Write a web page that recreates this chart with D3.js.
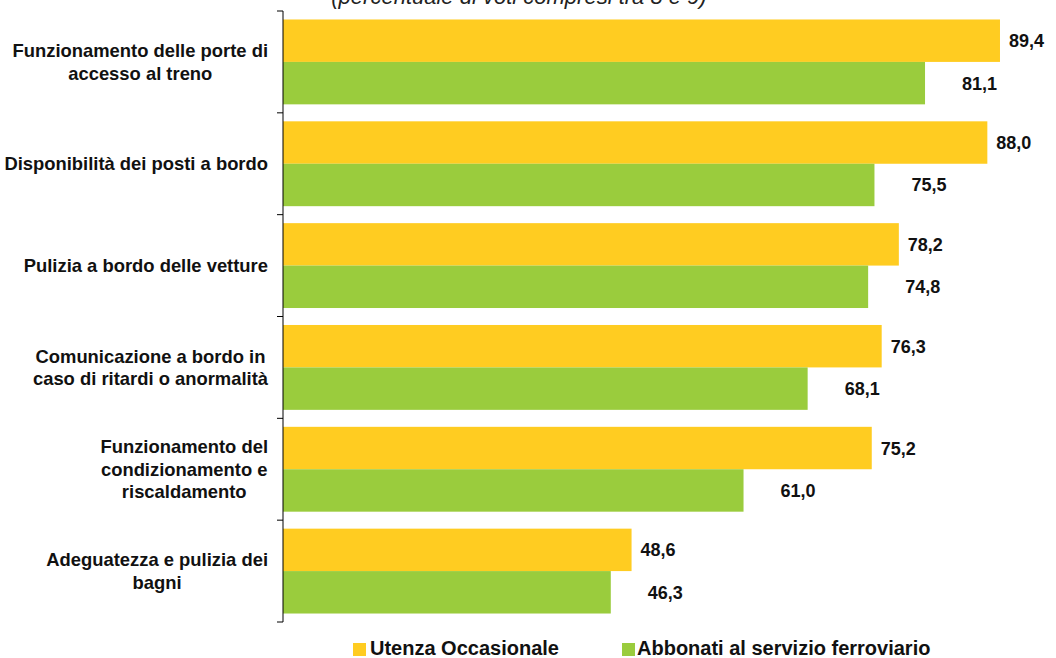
<!DOCTYPE html>
<html>
<head>
<meta charset="utf-8">
<script src="https://cdn.jsdelivr.net/npm/d3@7"></script>
<style>
  html, body { margin: 0; padding: 0; background: #fff; }
  svg { display: block; font-family: "Liberation Sans", Arial, sans-serif; }
</style>
</head>
<body>
<svg id="chart" width="1056" height="658"></svg>
<script>
const categories = [
  ["Funzionamento delle porte di", "accesso al treno"],
  ["Disponibilità dei posti a bordo"],
  ["Pulizia a bordo delle vetture"],
  ["Comunicazione a bordo in", "caso di ritardi o anormalità"],
  ["Funzionamento del", "condizionamento e", "riscaldamento"],
  ["Adeguatezza e pulizia dei", "bagni"]
];
const seriesNames = ["Utenza Occasionale", "Abbonati al servizio ferroviario"];
const occasionale = [89.4, 88.0, 78.2, 76.3, 75.2, 48.6];
const abbonati = [81.1, 75.5, 74.8, 68.1, 61.0, 46.3];
const titleText = "(percentuale di voti compresi tra 8 e 9)";
const colors = ["#FFCC21", "#9ACC3D"];

const svg = d3.select("#chart");
const fmt = v => d3.format(".1f")(v).replace(".", ",");

const catKeys = categories.map((c, i) => i);
const y = d3.scaleBand().domain(catKeys).range([11, 622]).padding(0);
const ySub = d3.scaleBand().domain([0, 1]).range([0, y.bandwidth()]).paddingInner(0).paddingOuter(0.2);
const x = d3.scaleLinear().domain([10, 90]).range([283, 1005.4]);

// Title (partially clipped at top, as in the original)
svg.append("text")
  .attr("x", 519).attr("y", 4)
  .attr("text-anchor", "middle")
  .attr("font-style", "italic")
  .attr("font-size", 22)
  .attr("fill", "#222")
  .text(titleText);

const data = catKeys.map(i => [occasionale[i], abbonati[i]]);

const groups = svg.append("g").selectAll("g.cat")
  .data(data).join("g")
  .attr("class", "cat")
  .attr("transform", (d, i) => `translate(0,${y(i)})`);

groups.selectAll("rect")
  .data(d => d.map((v, s) => ({v, s}))).join("rect")
  .attr("x", x(10))
  .attr("y", d => ySub(d.s))
  .attr("width", d => x(d.v) - x(10))
  .attr("height", ySub.bandwidth())
  .attr("fill", d => colors[d.s]);

const labelOffset = [9, 37];
groups.selectAll("text.val")
  .data(d => d.map((v, s) => ({v, s}))).join("text")
  .attr("class", "val")
  .attr("x", d => x(d.v) + labelOffset[d.s])
  .attr("y", d => ySub(d.s) + ySub.bandwidth() / 2)
  .attr("dy", "0.36em")
  .attr("font-size", 18)
  .attr("font-weight", "bold")
  .attr("fill", "#111")
  .text(d => fmt(d.v));

// Axis line and ticks
const axis = d3.axisLeft(y).tickSize(0).tickFormat("");
svg.append("g").attr("transform", "translate(283,0)").call(axis)
  .call(g => g.select(".domain").attr("stroke", "#000").attr("d", `M0,${y.range()[0]}V${y.range()[1]}`));
const boundaries = catKeys.map(i => y(i)).concat([y.range()[1]]);
svg.append("g").selectAll("line").data(boundaries).join("line")
  .attr("x1", 277).attr("x2", 283)
  .attr("y1", d => d).attr("y2", d => d)
  .attr("stroke", "#000");

// Category labels: block right-aligned, lines centered within block
const lineH = 22.5;
const catG = svg.append("g");
categories.forEach((lines, i) => {
  const g = catG.append("g");
  const texts = lines.map((ln, j) => g.append("text")
    .attr("font-size", 18.4).attr("font-weight", "bold").attr("fill", "#111")
    .attr("text-anchor", "middle")
    .attr("y", y(i) + y.bandwidth() / 2 + (j - (lines.length - 1) / 2) * lineH)
    .attr("dy", "0.36em")
    .text(ln));
  const maxW = d3.max(texts, t => t.node().getComputedTextLength());
  texts.forEach(t => t.attr("x", 268 - maxW / 2));
});

// Legend
const legendPos = [{sq: 353, tx: 370}, {sq: 622, tx: 637}];
const leg = svg.append("g");
seriesNames.forEach((name, s) => {
  leg.append("rect").attr("x", legendPos[s].sq).attr("y", 643)
    .attr("width", 13).attr("height", 13).attr("fill", colors[s]);
  leg.append("text").attr("x", legendPos[s].tx).attr("y", 655)
    .attr("font-size", 20).attr("font-weight", "bold").attr("fill", "#111")
    .text(name);
});
</script>
</body>
</html>
